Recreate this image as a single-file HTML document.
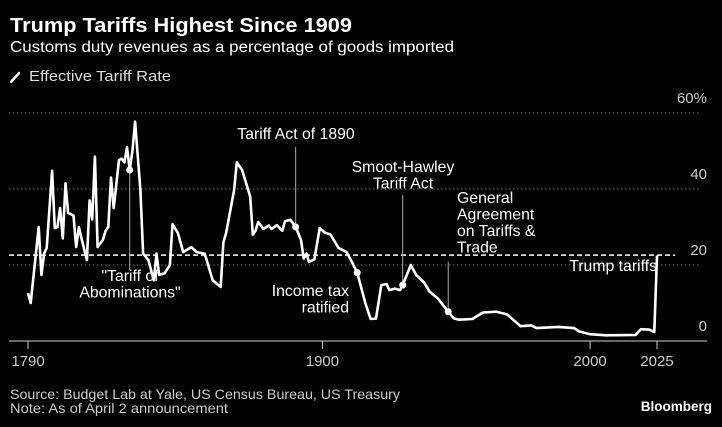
<!DOCTYPE html>
<html><head><meta charset="utf-8"><style>
html,body{margin:0;padding:0;background:#000;}
body{width:722px;height:422px;overflow:hidden;font-family:"Liberation Sans",sans-serif;}
svg text{font-family:"Liberation Sans",sans-serif;}
</style></head><body>
<svg id="chart" width="722" height="422" viewBox="0 0 722 422" xmlns="http://www.w3.org/2000/svg">
<rect width="722" height="422" fill="#000"/>
<text x="10" y="32" fill="#fff" font-size="20" font-weight="bold" textLength="342" lengthAdjust="spacingAndGlyphs">Trump Tariffs Highest Since 1909</text>
<text x="10" y="52" fill="#fff" font-size="15.5" textLength="444" lengthAdjust="spacingAndGlyphs">Customs duty revenues as a percentage of goods imported</text>
<g>
<line x1="11" y1="82" x2="19" y2="73" stroke="#fff" stroke-width="2.5" stroke-linecap="round"/>
<text x="29" y="81" fill="#ddd" font-size="14.5" textLength="142" lengthAdjust="spacingAndGlyphs">Effective Tariff Rate</text>
</g>
<g id="grid"></g>
<g id="axes"></g>
<g id="annots"></g>
<path id="series" fill="none" stroke="#fff" stroke-width="2.6" stroke-linejoin="round"/>
<g id="markers"></g>
<text x="10" y="399" fill="#ccc" font-size="14" textLength="390" lengthAdjust="spacingAndGlyphs">Source: Budget Lab at Yale, US Census Bureau, US Treasury</text>
<text x="10" y="413" fill="#ccc" font-size="14" textLength="218" lengthAdjust="spacingAndGlyphs">Note: As of April 2 announcement</text>
<text x="712" y="411" fill="#fff" font-size="13.5" font-weight="bold" text-anchor="end">Bloomberg</text>
</svg>
<script>
const years = [1790,1791,1794,1795,1796,1797,1799,1800,1801,1802,1803,1804,1805,1807,1808,1809,1810,1812,1813,1814,1815,1816,1818,1819,1820,1821,1822,1824,1825,1826,1827,1828,1829,1830,1832,1833,1835,1837,1838,1839,1841,1843,1844,1846,1848,1851,1853,1856,1859,1862,1863,1864,1867,1868,1870,1873,1874,1875,1876,1878,1880,1881,1883,1885,1886,1888,1890,1892,1893,1894,1895,1897,1899,1901,1903,1906,1909,1911,1913,1916,1918,1920,1922,1924,1925,1927,1929,1930,1933,1935,1938,1940,1943,1945,1947,1949,1951,1956,1960,1965,1969,1974,1978,1980,1988,1994,1996,2000,2006,2017,2019,2022,2024,2025];
const rates = [12.6,10,30,17.4,23,24.5,44.8,29.7,30,35,27,41.5,33.7,33,24.7,30,27,21.3,37,32,48.5,24.7,26.6,29,30,43,35,47.6,48,47,51,45,50,57.7,39.7,23,21.3,16,23,17.4,17.8,20,30.8,28.4,23.4,24.7,23.4,23,16,14.2,26,28.4,39.7,47,45,38,28,29,31.3,29.5,30.4,29.5,30.5,29,31.5,31.9,30,26.6,21.7,23,20.8,21.5,29.7,28.5,28,24.5,23.4,20.8,18,10,5.8,5.9,14.7,15,13.4,13.8,13.4,14.7,20,17.4,15.4,13,11.3,9.5,7.7,6,5.6,5.8,7.5,7.7,7,3.9,4.1,3.4,3.7,3.4,2.5,1.8,1.5,1.6,3.1,3,2.4,22.5];
const yTicks = [0,20,40,60];
const yTickLabels = ["0","20","40","60%"];
const xTicks = [1790,1900,2000,2025];
const refLine = 22.6;
const markerYears = [1828,1890,1913,1930,1947];

const NS="http://www.w3.org/2000/svg";
const X = y => 28 + (y-1790)*(657-28)/(2025-1790);
const Y = v => 341 - v*3.8;
function mk(tag, attrs, parent){const e=document.createElementNS(NS,tag);for(const k in attrs)e.setAttribute(k,attrs[k]);parent.appendChild(e);return e;}
const grid=document.getElementById('grid'), axes=document.getElementById('axes'), ann=document.getElementById('annots'), mg=document.getElementById('markers');
yTicks.forEach((t,i)=>{
  if(t>0){const l=mk('line',{x1:9,x2:700,y1:Y(t),y2:Y(t),stroke:'#777','stroke-width':1,'stroke-dasharray':'1.5,2.5'},grid);
  
  }
  const tx=mk('text',{x:707,y:Y(t)-10,fill:'#ccc','font-size':15,'text-anchor':'end'},axes);
  tx.textContent=yTickLabels[i];
  
  
});
const ax=mk('line',{x1:9,x2:707,y1:341,y2:341,stroke:'#ccc','stroke-width':1},axes);


xTicks.forEach(t=>{
  const tl=mk('line',{x1:X(t),x2:X(t),y1:341,y2:349,stroke:'#ccc','stroke-width':1},axes);
  
  
  const tx=mk('text',{x:X(t),y:366,fill:'#ccc','font-size':15,'text-anchor':'middle'},axes);
  tx.textContent=String(t);
  
  
});
const rl=mk('line',{x1:9,x2:675,y1:Y(refLine),y2:Y(refLine),stroke:'#fff','stroke-width':1.5,'stroke-dasharray':'5,3'},grid);


document.getElementById('series').setAttribute('d',years.map((y,i)=>(i?'L':'M')+X(y).toFixed(1)+','+Y(rates[i]).toFixed(1)).join(''));
function valAt(yr){for(let i=1;i<years.length;i++){if(years[i]>=yr){const f=(yr-years[i-1])/(years[i]-years[i-1]);return rates[i-1]+f*(rates[i]-rates[i-1]);}}return rates[rates.length-1];}
markerYears.forEach(yr=>{
  const c=mk('circle',{cx:X(yr),cy:Y(valAt(yr)),r:3.5,fill:'#fff'},mg);
  
  
});
const leaders=[[1828,270],[1890,147],[1930,195],[1947,262]];
leaders.forEach(([yr,yEnd])=>{
  const l=mk('line',{x1:X(yr),x2:X(yr),y1:Y(valAt(yr)),y2:yEnd,stroke:'#aaa','stroke-width':1},ann);
  
  
});
const labels=[
 [["\"Tariff of","Abominations\""],130,281,'middle'],
 [["Tariff Act of 1890"],296,139,'middle'],
 [["Income tax","ratified"],349,296,'end'],
 [["Smoot-Hawley","Tariff Act"],403,172,'middle'],
 [["General","Agreement","on Tariffs &","Trade"],457,203,'start'],
 [["Trump tariffs"],657,271,'end']
];
labels.forEach(([lines,x,y,anc])=>{
  const t=mk('text',{x:x,y:y,fill:'#fff','font-size':15.8,'text-anchor':anc},ann);
  
  
  lines.forEach((s,i)=>{const ts=mk('tspan',{x:x,dy:i?16.5:0},t);ts.textContent=s;});
});
</script>
</body></html>
